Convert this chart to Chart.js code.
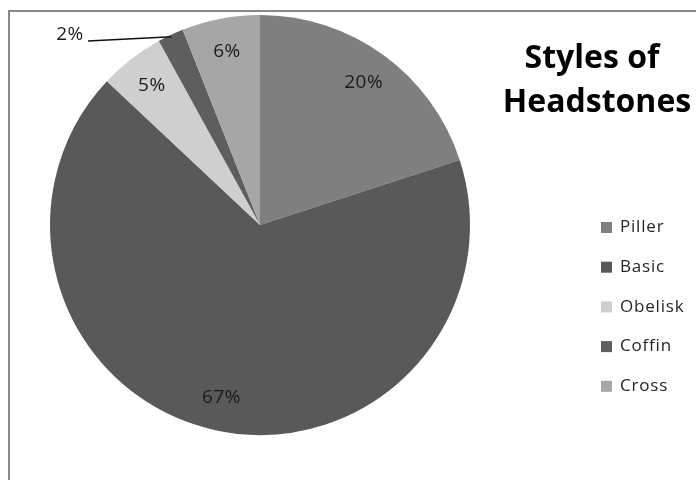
<!DOCTYPE html>
<html>
<head>
<meta charset="utf-8">
<title>Styles of Headstones</title>
<script src="https://cdn.jsdelivr.net/npm/chart.js@4"></script>
<style>
  html, body { margin: 0; padding: 0; background: #fff; }
  #wrap { width: 696px; height: 480px; }
</style>
</head>
<body>
<div id="wrap">
  <canvas id="headstoneChart" width="696" height="480"></canvas>
</div>
<script>
// headstone styles and their share (percent)
const styleNames = ["Piller", "Basic", "Obelisk", "Coffin", "Cross"];
const styleShares = [20, 67, 5, 2, 6];
const sliceColors = ["#7f7f7f", "#595959", "#cfcfcf", "#5e5e5e", "#a6a6a6"];
const titleLines = ["Styles of", "Headstones"];

const FONT = "'Open Sans', Lato, sans-serif";

// frame, title, slice labels and the legend are painted here
const decorPlugin = {
  id: "headstoneDecor",
  beforeDraw(chart) {
    const ctx = chart.ctx;
    ctx.save();
    ctx.fillStyle = "#fff";
    ctx.fillRect(0, 0, chart.width, chart.height);
    ctx.strokeStyle = "#8a8a8a";
    ctx.lineWidth = 2;
    ctx.beginPath();
    ctx.moveTo(9, chart.height + 5);
    ctx.lineTo(9, 11);
    ctx.lineTo(chart.width + 5, 11);
    ctx.stroke();
    ctx.restore();
  },
  afterDatasetsDraw(chart) {
    const ctx = chart.ctx;
    const meta = chart.getDatasetMeta(0);
    ctx.save();
    ctx.font = "19px " + FONT;
    ctx.letterSpacing = "0.5px";
    ctx.fillStyle = "#1a1a1a";
    ctx.textAlign = "center";
    ctx.textBaseline = "middle";
    meta.data.forEach((arc, i) => {
      const p = arc.getProps(["x", "y", "startAngle", "endAngle", "outerRadius"], true);
      const mid = (p.startAngle + p.endAngle) / 2;
      const text = styleShares[i] + "%";
      if (styleShares[i] < 3) {
        // small slice: label sits outside with a leader line
        const ex = p.x + Math.cos(mid) * (p.outerRadius - 2);
        const ey = p.y + Math.sin(mid) * (p.outerRadius - 2);
        ctx.strokeStyle = "#111";
        ctx.lineWidth = 1.5;
        ctx.beginPath();
        ctx.moveTo(88, 41);
        ctx.lineTo(ex, ey);
        ctx.stroke();
        ctx.fillText(text, 70, 35);
      } else {
        const r = p.outerRadius * 0.84;
        ctx.fillText(text, p.x + Math.cos(mid) * r, p.y + Math.sin(mid) * r);
      }
    });
    ctx.restore();
  },
  afterDraw(chart) {
    const ctx = chart.ctx;
    ctx.save();
    ctx.fillStyle = "#000";
    ctx.textAlign = "center";
    ctx.textBaseline = "alphabetic";
    ctx.font = "bold 32px " + FONT;
    ctx.fillText(titleLines[0], 592, 68);
    ctx.fillText(titleLines[1], 597, 112);

    ctx.font = "17px " + FONT;
    ctx.letterSpacing = "0.8px";
    ctx.textAlign = "left";
    ctx.textBaseline = "middle";
    styleNames.forEach((name, i) => {
      const y = 227.5 + i * 39.7;
      ctx.fillStyle = sliceColors[i];
      ctx.fillRect(601, y - 5.5, 11, 11);
      ctx.fillStyle = "#262626";
      ctx.fillText(name, 620, y);
    });
    ctx.restore();
  }
};

const ctx = document.getElementById("headstoneChart").getContext("2d");
new Chart(ctx, {
  type: "pie",
  data: {
    labels: styleNames,
    datasets: [{
      data: styleShares,
      backgroundColor: sliceColors,
      borderWidth: 0
    }]
  },
  options: {
    responsive: false,
    animation: false,
    devicePixelRatio: 1,
    layout: { padding: { left: 50, right: 226, top: 15, bottom: 45 } },
    plugins: {
      legend: { display: false },
      title: { display: false },
      tooltip: { enabled: false }
    }
  },
  plugins: [decorPlugin]
});
</script>
</body>
</html>
